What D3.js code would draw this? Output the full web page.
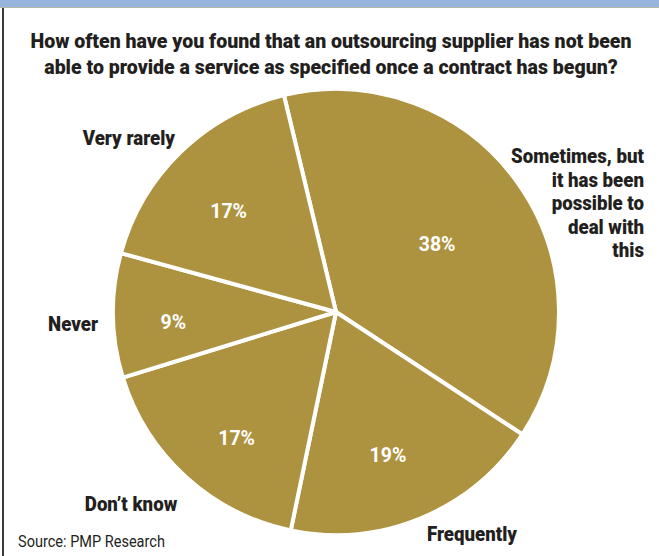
<!DOCTYPE html>
<html>
<head>
<meta charset="utf-8">
<script src="https://cdn.jsdelivr.net/npm/d3@7"></script>
<style>
  html, body { margin: 0; padding: 0; background: #fff; }
  svg { display: block; }
  text { font-family: Roboto, "Liberation Sans", sans-serif; }
</style>
</head>
<body>
<svg id="chart" width="659" height="556"></svg>
<script>
// Survey answers, in drawing order (clockwise from the top-left edge)
const categories = ["Sometimes, but it has been possible to deal with this", "Frequently", "Don't know", "Never", "Very rarely"];
const percentages = [38, 19, 17, 9, 17];
const valueLabels = ["38%", "19%", "17%", "9%", "17%"];
const titleLines = [
  "How often have you found that an outsourcing supplier has not been",
  "able to provide a service as specified once a contract has begun?"
];
const sourceNote = "Source: PMP Research";

// Layout
const width = 659, height = 556;
const cx = 336, cy = 312, radius = 223;
const startDeg = -13.5;
const titleWidth = 601;              // first title line is set to this width
// percentage labels: distance from centre and angular nudge (deg) from slice middle
const innerLabelRadius = [122, 152, 160, 163, 148];
const innerLabelNudge = [1.1, 2.5, -3.9, -2.6, -2.4];
// category label placement relative to the pie centre: [dx, dy, anchor]
const outerLabelPos = [
  [308, -149, "end"],
  [136, 229, "middle"],
  [-205, 199, "middle"],
  [-238, 19, "end"],
  [-161, -167, "end"]
];
// line breaks for category labels
const outerLabelLines = [
  ["Sometimes, but", "it has been", "possible to", "deal with", "this"],
  ["Frequently"],
  ["Don\u2019t know"],
  ["Never"],
  ["Very rarely"]
];

const svg = d3.select("#chart");

// frame: blue band along the top, grey rule beneath it and down the left side
svg.append("rect").attr("x", 0).attr("y", 0).attr("width", width).attr("height", 7).attr("fill", "#98b5dd");
svg.append("rect").attr("x", 0).attr("y", 7).attr("width", width).attr("height", 1).attr("fill", "#b9b4a8");
svg.append("rect").attr("x", 2).attr("y", 8).attr("width", 2).attr("height", height - 8).attr("fill", "#3a3a3a");

// squeeze text horizontally to imitate a condensed face
function condense(sel, k) {
  sel.each(function () {
    const w = this.getComputedTextLength();
    d3.select(this).attr("textLength", w * k).attr("lengthAdjust", "spacingAndGlyphs");
  });
}

// title
const title = svg.append("g").selectAll("text").data(titleLines).join("text")
  .attr("x", 331)
  .attr("y", (d, i) => 48 + i * 26)
  .attr("text-anchor", "middle")
  .attr("font-size", 20)
  .attr("font-weight", 900)
  .attr("fill", "#231f20")
  .text(d => d);
const k = titleWidth / title.node().getComputedTextLength();
condense(title, k);

const data = categories.map((c, i) => ({ category: c, value: percentages[i], label: valueLabels[i], i }));

const pie = d3.pie()
  .value(d => d.value)
  .sort(null)
  .startAngle(startDeg * Math.PI / 180)
  .endAngle((startDeg + 360) * Math.PI / 180);

const arc = d3.arc().innerRadius(0).outerRadius(radius);

const g = svg.append("g").attr("transform", `translate(${cx},${cy})`);

g.selectAll("path.slice").data(pie(data)).join("path")
  .attr("class", "slice")
  .attr("d", arc)
  .attr("fill", "#ad9340")
  .attr("stroke", "#ffffff")
  .attr("stroke-width", 4)
  .attr("stroke-linejoin", "round");

// cover the outer rim so the white dividers stop at the circle edge
g.append("circle").attr("r", radius + 2).attr("fill", "none").attr("stroke", "#fff").attr("stroke-width", 4);

// percentages inside the slices
const pct = g.selectAll("text.pct").data(pie(data)).join("text")
  .attr("class", "pct")
  .attr("transform", d => {
    const r = innerLabelRadius[d.data.i];
    const a = (d.startAngle + d.endAngle) / 2 + innerLabelNudge[d.data.i] * Math.PI / 180;
    return `translate(${r * Math.sin(a)},${-r * Math.cos(a)})`;
  })
  .attr("text-anchor", "middle")
  .attr("dy", "0.355em")
  .attr("font-size", 21)
  .attr("font-weight", "bold")
  .attr("fill", "#ffffff")
  .text(d => d.data.label);
condense(pct, k * 0.95);

// category labels outside the pie
const lab = g.selectAll("text.cat").data(data).join("text")
  .attr("class", "cat")
  .attr("x", d => outerLabelPos[d.i][0])
  .attr("y", d => outerLabelPos[d.i][1])
  .attr("text-anchor", d => outerLabelPos[d.i][2])
  .attr("font-size", 21)
  .attr("font-weight", 900)
  .attr("fill", "#231f20");
lab.selectAll("tspan").data(d => outerLabelLines[d.i].map(t => ({ t, x: outerLabelPos[d.i][0] }))).join("tspan")
  .attr("x", d => d.x)
  .attr("dy", (d, i) => i === 0 ? 0 : 23.5)
  .text(d => d.t);
condense(lab.selectAll("tspan"), k * 0.91);

// source note
const src = svg.append("text")
  .attr("x", 18)
  .attr("y", 547)
  .attr("font-size", 17)
  .attr("fill", "#231f20")
  .text(sourceNote);
condense(src, k * 0.875);
</script>
</body>
</html>
